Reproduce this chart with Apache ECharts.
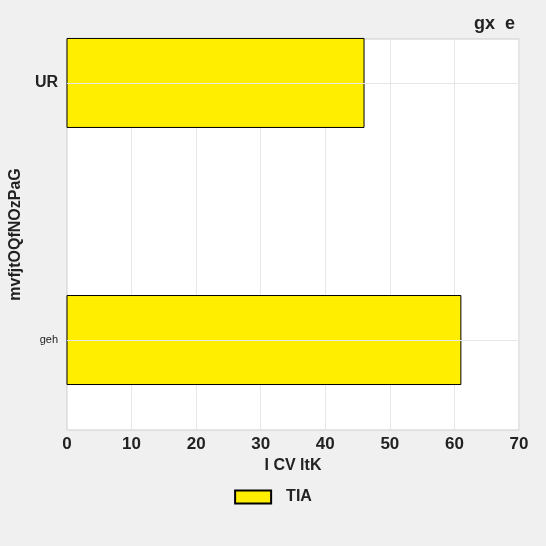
<!DOCTYPE html>
<html>
<head>
<meta charset="utf-8">
<script src="https://cdn.jsdelivr.net/npm/echarts@6/dist/echarts.min.js"></script>
</head>
<body style="margin:0;background:#f0f0f0">
<div id="main" style="width:546px;height:546px"></div>
<script>
var categories = ['geh', 'UR'];
var values = [61, 46];
var seriesName = 'TIA';

var chart = echarts.init(document.getElementById('main'));
chart.setOption({
  backgroundColor: '#f0f0f0',
  title: { text: 'gx  e', right: 26, top: 10, textStyle: { fontFamily: 'Liberation Sans', fontSize: 18, fontWeight: 'bold', color: '#222' } },
  grid: { left: 67, right: 27, top: 39, bottom: 116, show: true, backgroundColor: '#fff', borderColor: '#ccc' },
  legend: { bottom: 36, icon: 'rect', itemWidth: 36, itemHeight: 13, itemGap: 10,
    textStyle: { fontFamily: 'Liberation Sans', fontSize: 16, fontWeight: 'bold', color: '#222', padding: [0, 0, 0, 10] }, data: [seriesName] },
  xAxis: {
    type: 'value', min: 0, max: 70, interval: 10,
    name: 'I CV ltK', nameLocation: 'middle', nameGap: 28,
    nameTextStyle: { fontFamily: 'Liberation Sans', fontSize: 16, fontWeight: 'bold', color: '#222' },
    axisLine: { show: false }, axisTick: { show: false },
    axisLabel: { fontFamily: 'Liberation Sans', fontSize: 17, fontWeight: 'bold', color: '#222', margin: 6 },
    splitLine: { lineStyle: { color: '#e6e6e6' } }
  },
  yAxis: {
    type: 'value', min: -0.35, max: 1.171,
    name: 'mvfjtOQfNOzPaG', nameLocation: 'middle', nameGap: 30,
    nameTextStyle: { fontFamily: 'Liberation Sans', fontSize: 16, fontWeight: 'bold', color: '#222' },
    axisLine: { show: false },
    axisTick: { show: false, customValues: [0, 1] },
    axisLabel: {
      customValues: [0, 1], margin: 9,
      formatter: function (v) { return v > 0.5 ? '{big|' + categories[1] + '}' : '{small|' + categories[0] + '}'; },
      rich: {
        big: { fontFamily: 'Liberation Sans', fontSize: 16, fontWeight: 'bold', color: '#222' },
        small: { fontFamily: 'Liberation Sans', fontSize: 11, color: '#222' }
      }
    },
    splitLine: { show: false }
  },
  series: [
    {
      name: seriesName, type: 'custom',
      itemStyle: { color: '#ffee00', borderColor: '#000', borderWidth: 1 },
      markLine: { symbol: 'none', silent: true, label: { show: false }, lineStyle: { color: '#e6e6e6', type: 'solid', width: 1 },
        data: [{ yAxis: 0 }, { yAxis: 1 }] },
      renderItem: function (params, api) {
        var p0 = api.coord([0, api.value(1)]);
        var p1 = api.coord([api.value(0), api.value(1)]);
        var h = 89;
        return {
          type: 'rect', z2: 10,
          shape: { x: p0[0], y: p0[1] - h / 2, width: p1[0] - p0[0], height: h },
          style: { fill: '#ffee00', stroke: '#000', lineWidth: 1 }
        };
      },
      encode: { x: 0, y: 1 },
      data: values.map(function (v, i) { return [v, i]; })
    }
  ]
});
</script>
</body>
</html>
